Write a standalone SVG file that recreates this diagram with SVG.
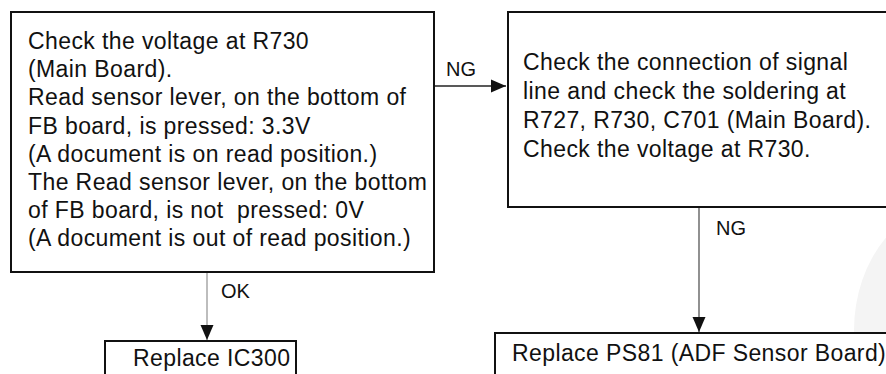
<svg xmlns="http://www.w3.org/2000/svg" width="886" height="374" viewBox="0 0 886 374">
  <style>
    .box { fill: #ffffff; stroke: #111111; stroke-width: 2; }
    .t { font-family: "Liberation Sans", Arial, Helvetica, sans-serif; font-size: 23px; letter-spacing: 0.4px; fill: #111111; }
    .lbl { font-family: "Liberation Sans", Arial, Helvetica, sans-serif; font-size: 20px; fill: #111111; }
    .conn { fill: none; stroke-width: 1.3; }
  </style>
  <defs>
    <marker id="arr" markerUnits="userSpaceOnUse" markerWidth="16" markerHeight="16" viewBox="0 0 16 16" refX="15" refY="8" orient="auto">
      <path d="M0,1.5 L15,8 L0,14.5 Z" fill="#111111"/>
    </marker>
  </defs>
  <rect width="886" height="374" fill="#ffffff"/>
  <ellipse cx="962" cy="330" rx="108" ry="130" fill="#f4f4f4"/>

  <g id="connectors">
    <line class="conn" x1="435" y1="86" x2="506" y2="86" stroke="#222222" marker-end="url(#arr)"/>
    <line class="conn" x1="207" y1="273" x2="207" y2="340" stroke="#9a9a9a" marker-end="url(#arr)"/>
    <line class="conn" x1="699" y1="207" x2="699" y2="332" stroke="#555555" marker-end="url(#arr)"/>
    <text class="lbl" x="446" y="76">NG</text>
    <text class="lbl" x="221" y="298">OK</text>
    <text class="lbl" x="716" y="235">NG</text>
  </g>

  <g id="node-check-voltage">
    <rect class="box" x="11" y="12" width="423" height="260"/>
    <text class="t" x="28" y="49">Check the voltage at R730</text>
    <text class="t" x="28" y="77">(Main Board).</text>
    <text class="t" x="28" y="105">Read sensor lever, on the bottom of</text>
    <text class="t" x="28" y="134">FB board, is pressed: 3.3V</text>
    <text class="t" x="28" y="162">(A document is on read position.)</text>
    <text class="t" x="28" y="190">The Read sensor lever, on the bottom</text>
    <text class="t" x="28" y="218" xml:space="preserve">of FB board, is not  pressed: 0V</text>
    <text class="t" x="28" y="246">(A document is out of read position.)</text>
  </g>

  <g id="node-check-connection">
    <rect class="box" x="508" y="12" width="400" height="195"/>
    <text class="t" x="523" y="70">Check the connection of signal</text>
    <text class="t" x="523" y="99">line and check the soldering at</text>
    <text class="t" x="523" y="128">R727, R730, C701 (Main Board).</text>
    <text class="t" x="523" y="157">Check the voltage at R730.</text>
  </g>

  <g id="node-replace-ic300">
    <rect class="box" x="105" y="341" width="191" height="45"/>
    <text class="t" x="133" y="366">Replace IC300</text>
  </g>

  <g id="node-replace-ps81">
    <rect class="box" x="495" y="333" width="400" height="55"/>
    <text class="t" x="512" y="361">Replace PS81 (ADF Sensor Board)</text>
  </g>
</svg>
